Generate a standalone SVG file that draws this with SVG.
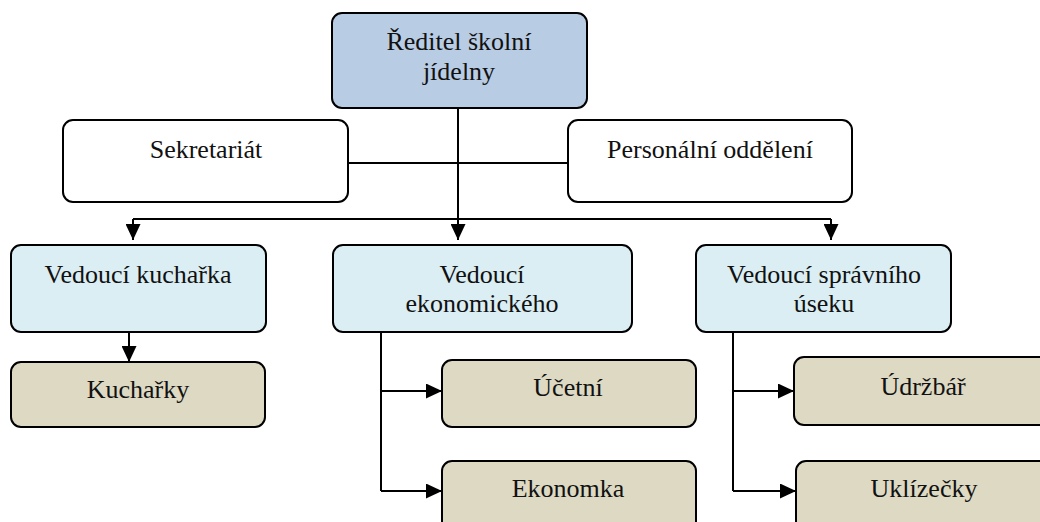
<svg xmlns="http://www.w3.org/2000/svg" width="1040" height="522" viewBox="0 0 1040 522">
<style>
.box{stroke:#000;stroke-width:2}
.top{fill:#b8cce4}
.staff{fill:#ffffff}
.lead{fill:#dbeef4}
.work{fill:#ddd9c3}
.t{font-family:'Liberation Serif','Times New Roman','DejaVu Serif',serif;font-size:26px;fill:#111;text-anchor:middle}
.c{fill:none;stroke:#000;stroke-width:2}
</style>
<defs>
<marker id="arr" viewBox="0 0 16 15" refX="16" refY="7.5" markerWidth="16" markerHeight="15" markerUnits="userSpaceOnUse" orient="auto">
<path d="M0,0 L16,7.5 L0,15 Z" fill="#000"/>
</marker>
</defs>
<g id="connectors">
<path class="c" d="M458,108 V240" marker-end="url(#arr)"/>
<path class="c" d="M348,163 H568"/>
<path class="c" d="M133,219 H831"/>
<path class="c" d="M133,219 V240" marker-end="url(#arr)"/>
<path class="c" d="M831,219 V240" marker-end="url(#arr)"/>
<path class="c" d="M129,332 V362" marker-end="url(#arr)"/>
<path class="c" d="M381,332 V491"/>
<path class="c" d="M381,391 H442" marker-end="url(#arr)"/>
<path class="c" d="M381,491 H442" marker-end="url(#arr)"/>
<path class="c" d="M733,332 V491"/>
<path class="c" d="M733,391 H794" marker-end="url(#arr)"/>
<path class="c" d="M733,491 H796" marker-end="url(#arr)"/>
</g>
<g id="reditel">
<rect class="box top" x="332" y="13" width="255" height="95" rx="10"/>
<text class="t" font-family="Liberation Serif, serif" x="459" y="50">Ředitel školní</text>
<text class="t" font-family="Liberation Serif, serif" x="459" y="80">jídelny</text>
</g>
<g id="sekretariat">
<rect class="box staff" x="63" y="120" width="285" height="82" rx="10"/>
<text class="t" x="206" y="158">Sekretariát</text>
</g>
<g id="personalni">
<rect class="box staff" x="568" y="120" width="284" height="82" rx="10"/>
<text class="t" x="710" y="158">Personální oddělení</text>
</g>
<g id="vedouci-kucharka">
<rect class="box lead" x="11" y="245" width="255" height="87" rx="10"/>
<text class="t" x="138" y="283">Vedoucí kuchařka</text>
</g>
<g id="vedouci-ekonomickeho">
<rect class="box lead" x="333" y="245" width="299" height="87" rx="10"/>
<text class="t" x="482" y="283">Vedoucí</text>
<text class="t" x="482" y="312">ekonomického</text>
</g>
<g id="vedouci-spravniho">
<rect class="box lead" x="696" y="245" width="255" height="87" rx="10"/>
<text class="t" x="824" y="283">Vedoucí správního</text>
<text class="t" x="824" y="312">úseku</text>
</g>
<g id="kucharky">
<rect class="box work" x="11" y="362" width="254" height="65" rx="10"/>
<text class="t" x="138" y="398">Kuchařky</text>
</g>
<g id="ucetni">
<rect class="box work" x="442" y="360" width="254" height="67" rx="10"/>
<text class="t" x="568" y="396">Účetní</text>
</g>
<g id="ekonomka">
<rect class="box work" x="442" y="461" width="254" height="80" rx="10"/>
<text class="t" x="568" y="497">Ekonomka</text>
</g>
<g id="udrzbar">
<rect class="box work" x="794" y="357" width="260" height="68" rx="10"/>
<text class="t" x="923" y="395">Údržbář</text>
</g>
<g id="uklizecky">
<rect class="box work" x="796" y="461" width="258" height="80" rx="10"/>
<text class="t" x="924" y="497">Uklízečky</text>
</g>
</svg>
